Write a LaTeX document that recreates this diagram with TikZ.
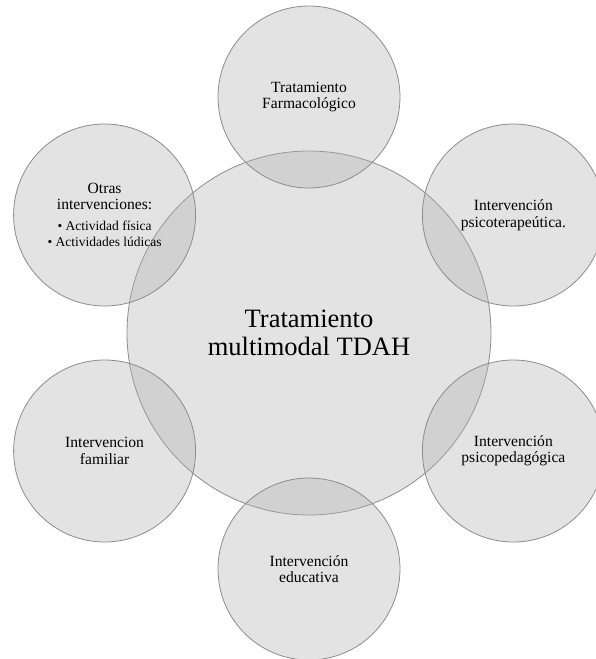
\documentclass[tikz,border=0pt]{standalone}
\usepackage{fontspec}
\setmainfont{Liberation Serif}
\definecolor{circfill}{RGB}{175,175,175}
\definecolor{circline}{RGB}{140,140,140}
\begin{document}
\begin{tikzpicture}[x=1pt,y=1pt,
  bubble/.style={circle, fill=circfill, fill opacity=0.35, text opacity=1,
    draw=circline, line width=0.8pt, align=center, inner sep=0pt},
  hub/.style={bubble, minimum size=364pt, font=\fontsize{26.5}{27.5}\selectfont},
  spoke/.style={bubble, minimum size=182pt, font=\fontsize{15.6}{16.5}\selectfont},
  small/.style={}]
\useasboundingbox (0,0) rectangle (595,-659);
\node[hub] (hubc) at (309,-333) {Tratamiento\\multimodal TDAH};
\node[spoke] (farma) at (309,-97) {Tratamiento\\Farmacológico};
\node[spoke] (psicot) at (513.4,-215) {Intervención\\psicoterapeútica.};
\node[spoke] (psicop) at (513.4,-451) {Intervención\\psicopedagógica};
\node[spoke] (educ) at (309,-569) {Intervención\\educativa};
\node[spoke] (famil) at (104.6,-451) {Intervencion\\familiar};
\node[spoke] (otras) at (104.6,-215) {Otras\\intervenciones:\\[4pt]{\fontsize{13.5}{16.5}\selectfont • Actividad física}\\{\fontsize{13.5}{16.5}\selectfont • Actividades lúdicas}};
\end{tikzpicture}
\end{document}
